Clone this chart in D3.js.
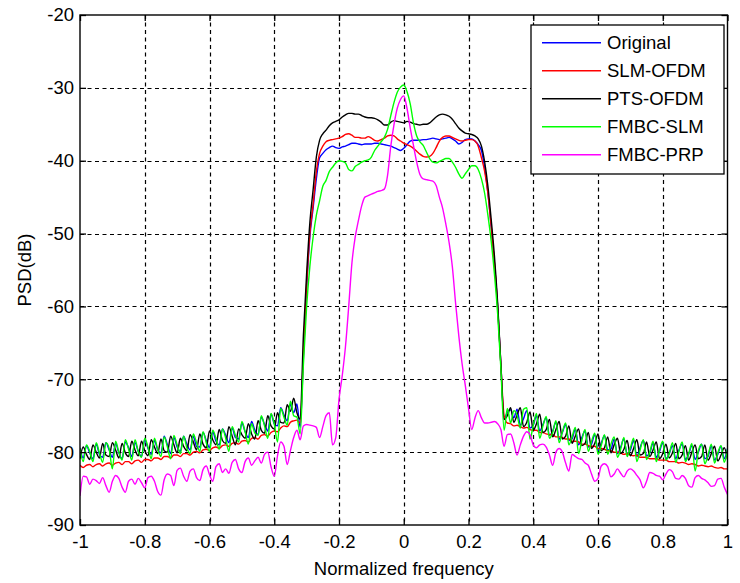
<!DOCTYPE html>
<html><head><meta charset="utf-8">
<script src="https://cdn.jsdelivr.net/npm/d3@7/dist/d3.min.js"></script>
<style>body{margin:0;background:#fff}svg{display:block}text{font-family:"Liberation Sans",Arial,sans-serif}</style>
</head><body><svg id="chart" width="740" height="583"></svg>
<script>
// Normalized frequency sample grid (-1 .. 1, step 0.01)
const freq = d3.range(201).map(i => +(-1 + i * 0.01).toFixed(2));

const xTicks = [-1, -0.8, -0.6, -0.4, -0.2, 0, 0.2, 0.4, 0.6, 0.8, 1];
const xTickLabels = ["-1", "-0.8", "-0.6", "-0.4", "-0.2", "0", "0.2", "0.4", "0.6", "0.8", "1"];
const yTicks = [-90, -80, -70, -60, -50, -40, -30, -20];
const yTickLabels = ["-90", "-80", "-70", "-60", "-50", "-40", "-30", "-20"];
const seriesNames = ["Original", "SLM-OFDM", "PTS-OFDM", "FMBC-SLM", "FMBC-PRP"];
const seriesColors = ["#0000ff", "#ff0000", "#000000", "#00ff00", "#ff00ff"];

const original = [
-79.4,-80.8,-79.1,-80.1,-80.9,-78.9,-80.3,-80.7,-78.7,-79.7,
-80.7,-78.8,-80.1,-80.9,-78.6,-79.4,-80.6,-78.7,-79.9,-80.6,
-78.3,-79.5,-80.3,-78.4,-79.7,-80.1,-77.8,-79.0,-80.2,-78.0,
-79.3,-79.9,-77.8,-78.9,-79.7,-77.8,-79.2,-79.3,-77.3,-78.4,
-79.4,-77.2,-78.5,-79.0,-76.8,-77.7,-78.7,-76.7,-78.0,-78.2,
-76.0,-77.2,-78.0,-75.8,-77.0,-77.6,-75.2,-76.2,-77.1,-74.8,
-76.1,-76.4,-73.9,-74.9,-75.7,-73.4,-74.6,-73.4,-76.6,-67.0,
-57.5,-50.5,-46.5,-42.5,-39.6,-39.0,-38.5,-38.2,-38.0,-38.2,
-38.3,-38.1,-38.0,-37.8,-37.6,-37.6,-37.7,-37.8,-37.7,-37.7,
-37.7,-37.6,-37.6,-37.7,-37.8,-37.9,-38.0,-38.2,-38.4,-38.6,
-38.3,-37.8,-37.3,-37.2,-37.2,-37.2,-37.1,-37.1,-37.0,-36.9,
-37.0,-37.1,-37.0,-36.9,-36.8,-37.0,-37.3,-37.7,-37.5,-37.1,
-37.0,-37.0,-37.3,-37.8,-38.6,-41.0,-44.5,-49.0,-54.0,-60.0,
-68.0,-75.5,-74.5,-74.2,-75.3,-74.1,-76.3,-75.4,-74.3,-76.7,
-76.3,-75.0,-77.1,-76.2,-75.3,-77.7,-77.1,-75.9,-78.2,-77.3,
-76.2,-78.4,-78.2,-76.8,-79.0,-78.0,-77.1,-79.3,-78.9,-77.6,
-79.8,-78.8,-77.7,-79.7,-79.6,-78.2,-80.2,-79.3,-78.2,-80.3,
-79.7,-78.4,-80.6,-79.4,-78.4,-80.5,-80.1,-78.8,-80.7,-79.9,
-78.7,-80.9,-80.2,-79.1,-80.9,-79.7,-78.9,-81.0,-80.3,-79.1,
-81.0,-80.0,-78.9,-80.9,-80.6,-79.1,-81.1,-80.3,-79.2,-80.9,
-79.5];

const slmOfdm = [
-81.8,-82.1,-81.8,-81.7,-82.0,-81.7,-81.6,-81.9,-81.6,-81.5,
-81.8,-81.5,-81.4,-81.7,-81.3,-81.3,-81.6,-81.2,-81.1,-81.4,
-81.0,-81.0,-81.2,-80.8,-80.8,-81.0,-80.6,-80.6,-80.8,-80.4,
-80.4,-80.6,-80.2,-80.2,-80.4,-80.0,-79.9,-80.1,-79.7,-79.6,
-79.8,-79.4,-79.3,-79.5,-79.1,-79.0,-79.2,-78.8,-78.7,-78.9,
-78.5,-78.4,-78.6,-78.1,-78.0,-78.2,-77.7,-77.6,-77.8,-77.3,
-77.1,-77.2,-76.7,-76.4,-76.5,-75.9,-75.7,-75.6,-76.0,-66.5,
-57.0,-50.0,-46.0,-41.5,-39.0,-38.0,-37.4,-37.2,-37.1,-37.0,
-36.9,-36.7,-36.4,-36.3,-36.5,-36.8,-36.8,-36.9,-36.9,-36.7,
-36.9,-37.2,-37.3,-37.1,-36.9,-36.6,-36.5,-36.6,-37.0,-37.3,
-37.6,-37.8,-38.0,-38.3,-38.7,-39.1,-39.4,-39.5,-39.4,-39.0,
-38.2,-37.3,-36.8,-36.6,-36.6,-36.8,-37.0,-37.2,-37.3,-37.2,
-37.1,-37.1,-37.3,-38.0,-39.6,-41.5,-44.5,-49.0,-54.0,-60.0,
-68.0,-75.0,-76.0,-76.1,-76.4,-76.3,-76.5,-76.7,-76.6,-76.9,
-77.0,-77.0,-77.3,-77.3,-77.5,-77.6,-77.6,-77.9,-77.9,-78.0,
-78.2,-78.2,-78.5,-78.5,-78.6,-78.9,-78.9,-79.1,-79.2,-79.2,
-79.5,-79.5,-79.6,-79.8,-79.8,-80.0,-80.0,-80.1,-80.3,-80.2,
-80.4,-80.5,-80.4,-80.7,-80.7,-80.7,-80.9,-80.9,-80.9,-81.1,
-81.1,-81.1,-81.3,-81.3,-81.3,-81.5,-81.4,-81.5,-81.7,-81.6,
-81.7,-81.9,-81.8,-81.9,-82.0,-81.9,-82.1,-82.2,-82.1,-82.3,
-82.3];

const ptsOfdm = [
-80.9,-79.3,-80.3,-81.0,-79.0,-80.0,-80.8,-78.8,-80.4,-80.6,
-78.7,-79.7,-80.8,-78.8,-80.1,-80.6,-78.5,-79.7,-80.5,-78.5,
-79.8,-80.5,-78.3,-79.3,-80.2,-78.2,-79.8,-80.0,-77.8,-79.0,
-80.1,-78.1,-79.2,-79.8,-77.6,-78.6,-79.7,-77.5,-78.9,-79.4,
-77.1,-78.3,-79.0,-76.9,-78.4,-78.8,-76.5,-77.8,-79.0,-76.8,
-77.6,-78.1,-76.1,-77.5,-78.2,-75.7,-77.0,-77.4,-75.0,-76.4,
-76.8,-74.6,-75.9,-76.0,-73.5,-74.4,-72.6,-74.6,-75.5,-64.0,
-55.5,-48.5,-44.0,-39.5,-37.2,-36.3,-35.8,-35.2,-34.8,-34.6,
-34.4,-34.0,-33.7,-33.5,-33.5,-33.6,-33.6,-33.8,-34.0,-34.1,
-34.1,-34.2,-34.4,-34.7,-35.1,-35.1,-34.7,-34.5,-34.6,-34.7,
-34.8,-34.6,-34.7,-34.9,-35.0,-35.1,-35.0,-35.0,-34.8,-34.4,
-34.0,-33.7,-33.6,-33.7,-33.9,-34.3,-34.9,-35.5,-35.9,-36.2,
-36.3,-36.4,-36.6,-37.0,-38.0,-40.2,-43.5,-48.0,-53.0,-59.5,
-68.0,-75.5,-75.0,-73.9,-75.9,-74.9,-73.9,-76.5,-75.9,-74.5,
-77.0,-76.1,-74.8,-77.3,-76.9,-75.5,-77.9,-76.9,-75.8,-78.2,
-77.8,-76.4,-78.8,-77.8,-76.8,-79.1,-78.8,-77.3,-79.5,-78.8,
-77.5,-79.8,-79.4,-77.9,-80.1,-79.0,-78.1,-80.2,-79.6,-78.4,
-80.5,-79.5,-78.3,-80.4,-80.2,-78.6,-80.6,-79.7,-78.6,-80.9,
-80.2,-78.9,-80.8,-80.1,-78.8,-80.9,-80.4,-79.1,-81.1,-80.0,
-79.0,-80.9,-80.6,-79.0,-81.1,-80.2,-79.2,-81.2,-80.4,-79.4,
-81.0];

const fmbcSlm = [
-79.5,-81.3,-79.0,-79.9,-81.3,-78.7,-80.1,-81.4,-78.7,-79.5,
-82.3,-78.5,-80.0,-81.1,-78.3,-79.6,-81.1,-78.3,-79.9,-80.7,
-78.1,-79.3,-80.9,-78.1,-79.6,-80.6,-77.9,-79.3,-80.9,-77.7,
-79.0,-80.2,-77.8,-79.4,-80.2,-77.5,-78.7,-79.9,-77.2,-78.7,
-79.9,-77.0,-78.1,-79.6,-76.8,-78.1,-79.9,-76.5,-77.7,-78.6,
-75.8,-77.2,-78.9,-76.1,-77.4,-77.7,-75.0,-76.4,-78.1,-74.7,
-76.1,-78.6,-74.0,-75.2,-76.3,-73.0,-75.0,-75.2,-77.5,-68.0,
-60.0,-54.5,-50.5,-47.5,-45.5,-43.5,-42.7,-41.5,-40.9,-40.3,
-40.0,-40.1,-40.3,-41.2,-41.4,-40.8,-40.5,-40.2,-40.0,-39.9,
-39.5,-38.6,-38.0,-37.4,-36.8,-35.7,-33.8,-32.0,-30.6,-29.9,
-29.6,-30.5,-32.2,-34.8,-36.6,-37.4,-37.9,-38.8,-39.7,-40.2,
-40.3,-40.1,-39.9,-39.7,-39.7,-40.2,-40.9,-41.8,-42.4,-41.8,
-41.2,-40.7,-40.7,-41.2,-42.5,-44.5,-47.5,-51.0,-55.5,-61.0,
-68.5,-77.0,-74.0,-76.0,-74.3,-74.9,-76.7,-74.1,-73.9,-78.2,
-76.3,-74.7,-78.1,-76.4,-75.1,-78.1,-77.3,-75.7,-78.7,-77.2,
-76.0,-79.0,-77.9,-76.6,-80.2,-78.4,-76.9,-79.9,-78.5,-77.4,
-80.3,-79.1,-77.6,-80.3,-78.9,-77.9,-80.7,-79.6,-78.0,-80.6,
-79.4,-78.1,-81.3,-79.7,-78.3,-81.0,-80.0,-78.5,-81.3,-79.7,
-78.5,-81.1,-80.2,-78.7,-81.4,-79.9,-78.6,-81.3,-80.2,-78.8,
-82.6,-79.8,-78.9,-81.6,-80.4,-78.9,-81.5,-80.1,-79.1,-81.4,
-79.6];

const fmbcPrp = [
-86.0,-83.3,-83.4,-84.4,-83.7,-83.9,-84.3,-83.5,-84.6,-85.5,
-84.0,-83.2,-83.6,-84.8,-85.5,-84.0,-83.7,-84.4,-83.6,-84.2,
-84.9,-83.5,-83.3,-84.0,-85.4,-85.9,-83.8,-83.0,-83.2,-84.6,
-82.5,-82.2,-83.3,-84.0,-82.6,-82.3,-83.5,-83.9,-82.4,-81.9,
-83.1,-84.0,-82.0,-81.6,-82.8,-82.3,-82.9,-81.4,-81.0,-82.3,
-82.8,-81.3,-80.8,-81.8,-81.2,-80.7,-81.5,-80.3,-80.0,-82.0,
-83.3,-80.5,-78.6,-79.2,-81.7,-79.8,-78.0,-77.0,-78.3,-76.4,
-76.2,-76.3,-76.4,-76.6,-78.0,-76.5,-75.0,-74.6,-79.0,-78.0,
-72.8,-69.5,-65.5,-60.0,-54.0,-50.5,-48.2,-46.2,-45.0,-44.8,
-44.6,-44.4,-44.2,-44.1,-43.9,-42.0,-38.0,-35.0,-32.8,-31.6,
-31.1,-32.8,-35.5,-37.9,-40.2,-41.9,-42.5,-42.6,-42.7,-42.8,
-43.4,-45.0,-46.5,-48.7,-51.2,-54.5,-59.5,-64.0,-67.8,-70.8,
-74.0,-76.9,-75.3,-74.3,-75.3,-76.0,-76.0,-75.9,-75.8,-76.1,
-76.9,-79.2,-77.6,-77.5,-78.7,-80.4,-79.0,-77.8,-77.2,-77.6,
-79.0,-79.4,-79.0,-78.9,-79.3,-80.4,-81.8,-80.0,-79.5,-80.0,
-81.5,-82.6,-80.3,-80.6,-80.9,-81.0,-81.5,-81.8,-83.0,-84.0,
-83.6,-81.9,-81.6,-82.0,-83.4,-83.0,-82.3,-82.9,-83.4,-82.6,
-82.3,-82.6,-83.2,-83.8,-84.9,-84.0,-82.8,-82.9,-83.2,-83.3,
-83.8,-83.0,-82.4,-82.7,-83.6,-83.7,-83.2,-83.6,-84.6,-84.8,
-83.5,-83.2,-83.6,-83.8,-84.2,-84.7,-84.6,-83.7,-83.6,-84.8,
-85.8];

const seriesValues = [original, slmOfdm, ptsOfdm, fmbcSlm, fmbcPrp];

const svg = d3.select("#chart");
svg.append("rect").attr("width", 740).attr("height", 583).attr("fill", "#fff");

const L = 80, R = 727.5, T = 15, B = 525;
const x = d3.scaleLinear().domain([-1, 1]).range([L, R]);
const y = d3.scaleLinear().domain([-90, -20]).range([B, T]);

// grid
const grid = svg.append("g").attr("stroke", "#000").attr("stroke-width", 1.2).attr("stroke-dasharray", "4,3.5");
grid.selectAll("line.v").data(xTicks.slice(1, -1)).join("line")
  .attr("x1", d => Math.round(x(d)) + 0.5).attr("x2", d => Math.round(x(d)) + 0.5)
  .attr("y1", T).attr("y2", B);
grid.selectAll("line.h").data(yTicks.slice(1, -1)).join("line")
  .attr("y1", d => Math.round(y(d)) + 0.5).attr("y2", d => Math.round(y(d)) + 0.5)
  .attr("x1", L).attr("x2", R);

// curves
svg.append("clipPath").attr("id", "clip").append("rect")
  .attr("x", L).attr("y", T).attr("width", R - L).attr("height", B - T);
const line = d3.line().x((d, i) => x(freq[i])).y(d => y(d)).curve(d3.curveMonotoneX);
const curves = svg.append("g").attr("clip-path", "url(#clip)");
seriesValues.forEach((vals, k) => {
  curves.append("path").datum(vals)
    .attr("fill", "none").attr("stroke", seriesColors[k])
    .attr("stroke-width", 1.4).attr("stroke-linejoin", "round")
    .attr("d", line);
});

// axes
const axB = svg.append("g").attr("transform", `translate(0,${B})`)
  .call(d3.axisBottom(x).tickValues(xTicks).tickFormat((d, i) => xTickLabels[i]).tickSizeInner(-6).tickSizeOuter(0).tickPadding(10));
const axL = svg.append("g").attr("transform", `translate(${L},0)`)
  .call(d3.axisLeft(y).tickValues(yTicks).tickFormat((d, i) => yTickLabels[i]).tickSizeInner(-6).tickSizeOuter(0).tickPadding(6));
const axT = svg.append("g").attr("transform", `translate(0,${T})`)
  .call(d3.axisTop(x).tickValues(xTicks).tickFormat("").tickSizeInner(-6).tickSizeOuter(0));
const axR = svg.append("g").attr("transform", `translate(${R},0)`)
  .call(d3.axisRight(y).tickValues(yTicks).tickFormat("").tickSizeInner(-6).tickSizeOuter(0));
[axB, axL, axT, axR].forEach(a => {
  a.select(".domain").remove();
  a.selectAll(".tick line").attr("stroke", "#000").attr("stroke-width", 1.3);
  a.selectAll("text").attr("font-size", 18.5).attr("fill", "#000")
    .attr("font-family", "'Liberation Sans', Arial, sans-serif");
});
svg.append("rect").attr("x", L).attr("y", T).attr("width", R - L).attr("height", B - T)
  .attr("fill", "none").attr("stroke", "#000").attr("stroke-width", 1.4);

// axis titles
svg.append("text").attr("x", (L + R) / 2).attr("y", 575).attr("text-anchor", "middle")
  .attr("font-size", 18.5).text("Normalized frequency");
svg.append("text").attr("transform", "translate(31,270) rotate(-90)").attr("text-anchor", "middle")
  .attr("font-size", 18.5).text("PSD(dB)");

// legend
const lg = svg.append("g");
lg.append("rect").attr("x", 531).attr("y", 25).attr("width", 193).attr("height", 149)
  .attr("fill", "#fff").attr("stroke", "#000").attr("stroke-width", 1.3);
seriesNames.forEach((name, k) => {
  const yy = 42.7 + k * 28;
  lg.append("line").attr("x1", 542).attr("x2", 601).attr("y1", yy).attr("y2", yy)
    .attr("stroke", seriesColors[k]).attr("stroke-width", 1.4);
  lg.append("text").attr("x", 607).attr("y", yy).attr("dy", "0.36em")
    .attr("font-size", 18.5).text(name);
});
</script></body></html>
